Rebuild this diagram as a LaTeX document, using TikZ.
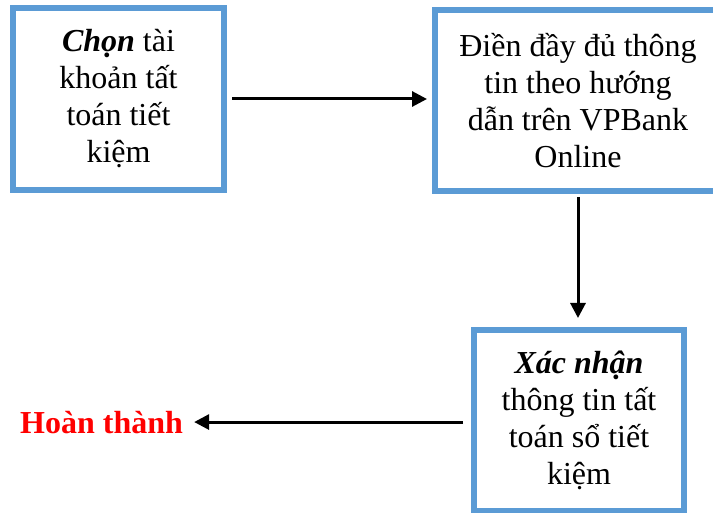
\documentclass[tikz,border=0pt]{standalone}
\usepackage{fontspec}
\setmainfont{Liberation Serif}
\usetikzlibrary{arrows.meta}
\definecolor{boxblue}{RGB}{91,155,213}
\definecolor{donered}{RGB}{255,0,0}
\tikzset{
  stepbox/.style={draw=boxblue, line width=6pt, fill=white, align=center, inner sep=0pt,
    font=\fontsize{32}{37}\selectfont},
  arr/.style={line width=3pt, -{Triangle[length=15pt,width=15pt]}},
}
\begin{document}
\begin{tikzpicture}[x=1pt,y=-1pt]
\useasboundingbox (0,0) rectangle (713,513);
\node[stepbox, minimum width=211pt, minimum height=182pt] (b1) at (118.5,99)
  {\textbf{\textit{Chọn}} tài\\khoản tất\\toán tiết\\kiệm};
\node[stepbox, minimum width=286pt, minimum height=181pt] (b2) at (578,100.5)
  {Điền đầy đủ thông\\tin theo hướng\\dẫn trên VPBank\\Online};
\node[stepbox, minimum width=210pt, minimum height=181pt] (b3) at (579,420.5)
  {\textbf{\textit{Xác nhận}}\\thông tin tất\\toán sổ tiết\\kiệm};
\node[anchor=base west, inner sep=0pt, text=donered, font=\fontsize{32}{37}\selectfont\bfseries] (hoan) at (20,433) {Hoàn thành};
\draw[arr] ([xshift=5pt]b1.east) -- ([xshift=-5pt]b1.east -| b2.west);
\draw[arr, shorten <=3pt, shorten >=9pt] (b2.south) -- (b2.south |- b3.north);
\draw[arr] ([xshift=-8pt]hoan.east -| b3.west) -- ([xshift=11pt]hoan.east);
\end{tikzpicture}
\end{document}
